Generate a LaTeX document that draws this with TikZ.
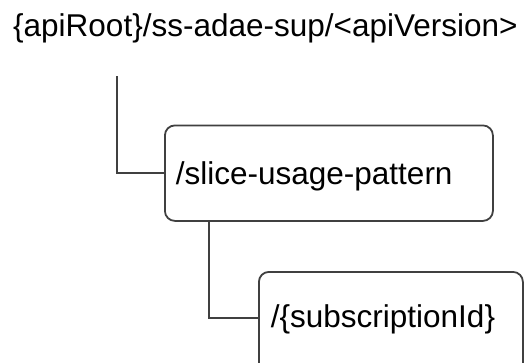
\documentclass[tikz,border=0pt]{standalone}
\usepackage{fontspec}
\setmainfont{Liberation Sans}
\begin{document}
\begin{tikzpicture}[x=1pt,y=-1pt,
  every node/.style={font=\fontsize{31.5}{38}\selectfont, text=black},
  resbox/.style={draw=linegray, line width=1.8pt, rounded corners=10pt, inner ysep=0pt, align=left},
  conn/.style={draw=linegray, line width=1.8pt}]
\definecolor{linegray}{HTML}{404040}
\clip (0,0) rectangle (527,362);
\fill[white] (0,0) rectangle (527,362);
\node[anchor=base west, inner sep=0pt] (root) at (13,36) {\{apiRoot\}/ss-adae-sup/<apiVersion>};
\node[resbox, anchor=north west, inner xsep=11pt, text width=306pt, minimum height=95.5pt,
      text height=22.4pt, text depth=0pt] (b1) at (164,124.5) {/slice-usage-pattern};
\node[resbox, anchor=north west, inner xsep=12pt, text width=240pt, minimum height=110pt,
      text height=22pt, text depth=20pt] (b2) at (258,271) {/\{subscriptionId\}};
\coordinate (c1) at (117,76);
\coordinate (c2) at (209,222);
\draw[conn] (c1) |- (b1.west);
\draw[conn] (c2) |- ([yshift=9pt]b2.west);
\end{tikzpicture}
\end{document}
